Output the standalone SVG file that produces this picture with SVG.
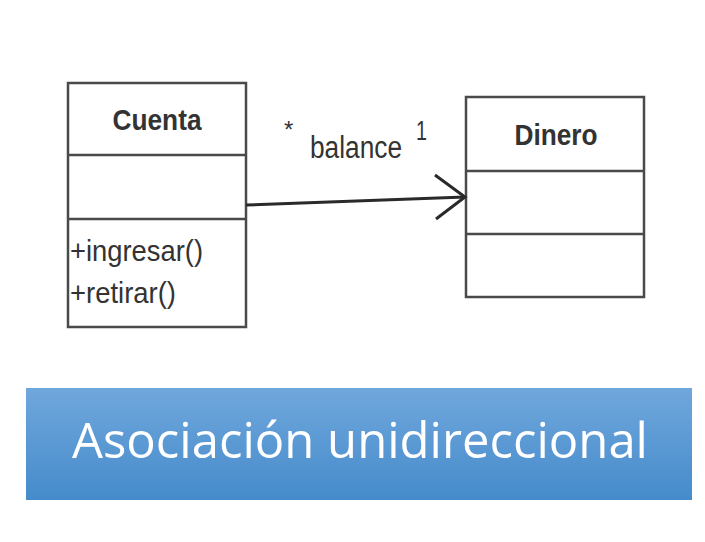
<svg xmlns="http://www.w3.org/2000/svg" width="705" height="542" viewBox="0 0 705 542">
<style>
.box{fill:#fff;stroke:#4a4a4a;stroke-width:2.5}
.div{stroke:#4a4a4a;stroke-width:2.5}
.t{font-family:"Liberation Sans",Arial,sans-serif;fill:#333}
.b{font-weight:bold}
.conn{stroke:#2a2a2a;stroke-width:3;fill:none}
</style>
<defs>
<linearGradient id="g" x1="0" y1="0" x2="0" y2="1">
<stop offset="0" stop-color="#70a7dc"/>
<stop offset="1" stop-color="#458bcb"/>
</linearGradient>
</defs>
<rect width="705" height="542" fill="#fff"/>
<g id="cuenta">
<rect class="box" x="68" y="83" width="178" height="244"/>
<line class="div" x1="68" y1="155" x2="246" y2="155"/>
<line class="div" x1="68" y1="219" x2="246" y2="219"/>
<text class="t b" x="157" y="130" font-size="30" text-anchor="middle" textLength="89" lengthAdjust="spacingAndGlyphs">Cuenta</text>
<text class="t" x="70" y="261" font-size="30" textLength="133" lengthAdjust="spacingAndGlyphs">+ingresar()</text>
<text class="t" x="70" y="303" font-size="30" textLength="106" lengthAdjust="spacingAndGlyphs">+retirar()</text>
</g>
<g id="dinero">
<rect class="box" x="466" y="97" width="178" height="200"/>
<line class="div" x1="466" y1="171" x2="644" y2="171"/>
<line class="div" x1="466" y1="234" x2="644" y2="234"/>
<text class="t b" x="556" y="145" font-size="30" text-anchor="middle" textLength="83" lengthAdjust="spacingAndGlyphs">Dinero</text>
</g>
<g id="connectors">
<line class="conn" x1="246" y1="205" x2="465" y2="197"/>
<polyline class="conn" points="435,175 465,197 436,219"/>
<text class="t" x="284" y="138" font-size="24">*</text>
<text class="t" x="310" y="158" font-size="31" textLength="92" lengthAdjust="spacingAndGlyphs">balance</text>
<text class="t" x="416" y="140" font-size="28" textLength="11" lengthAdjust="spacingAndGlyphs">1</text>
</g>
<g id="title">
<rect x="26" y="388" width="666" height="112" fill="url(#g)"/>
<text x="72" y="458" font-family="'Open Sans','Noto Sans',sans-serif" font-size="49" fill="#fff" textLength="576" lengthAdjust="spacingAndGlyphs">Asociación unidireccional</text>
</g>
</svg>
